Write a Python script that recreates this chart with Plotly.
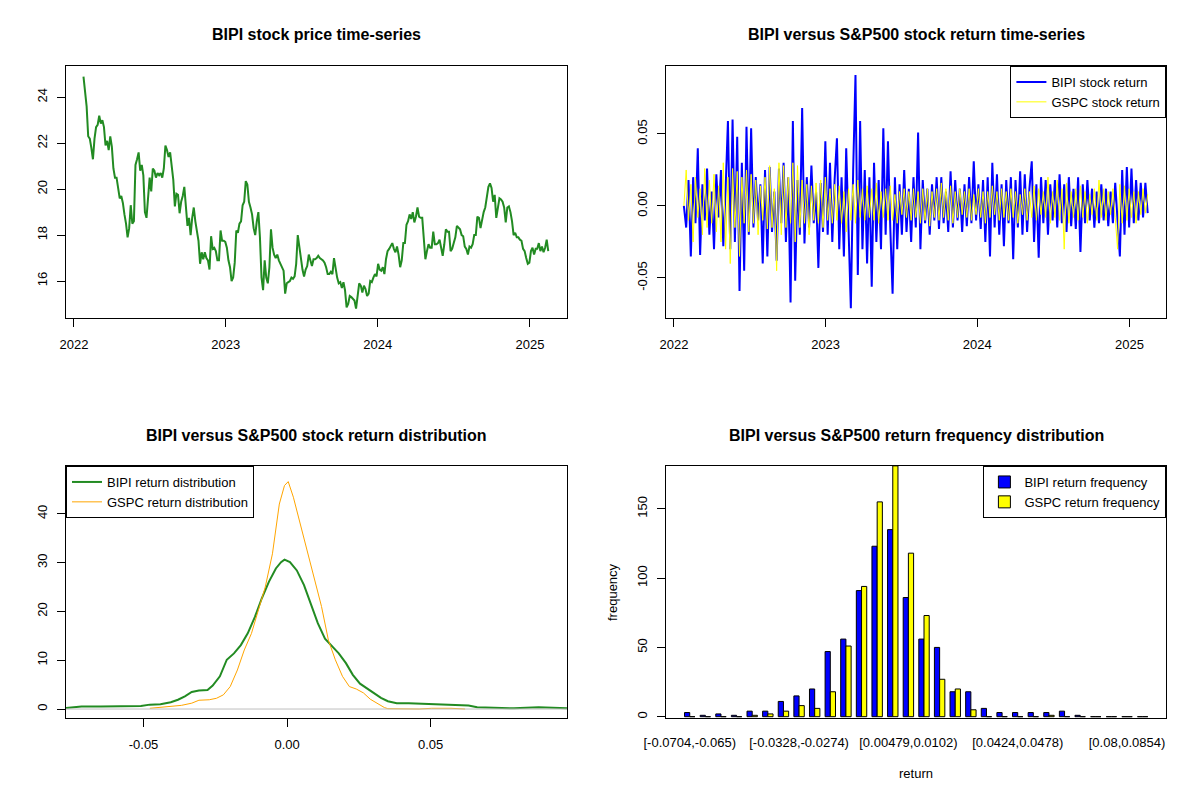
import pandas as pd
import plotly.graph_objects as go

# BIPI close price (roughly every 4 calendar days)
price = [
    24.9, 24.07, 23.6, 22.3, 22.2, 21.8, 21.3, 22.2, 22.7, 22.8, 23.2, 22.85, 23.0, 22.7, 21.9,
    22.1, 21.7, 22.3, 21.85, 20.9, 20.5, 20.5, 20.1, 19.6, 19.7, 19.4, 18.9, 18.5, 17.9, 18.3,
    19.3, 18.5, 18.6, 21.05, 21.3, 21.6, 20.8, 21.05, 20.6, 19.0, 18.75, 19.6, 20.5, 19.9, 20.9,
    20.8, 20.5, 20.7, 20.6, 20.7, 20.5, 20.9, 21.9, 21.7, 21.4, 21.6, 20.9, 20.4, 19.25, 19.8,
    19.75, 18.95, 19.45, 19.7, 20.1, 19.0, 18.4, 18.75, 18.0, 18.75, 19.2, 18.6, 18.1, 17.75, 16.75,
    17.25, 16.95, 17.25, 17.0, 16.9, 16.5, 17.95, 17.4, 17.45, 17.3, 16.9, 16.9, 18.2, 17.75, 17.75,
    17.7, 17.45, 16.9, 16.6, 16.0, 16.15, 16.8, 18.2, 18.1, 18.5, 18.6, 19.3, 19.45, 20.35, 20.2,
    19.45, 19.2, 18.9, 18.3, 18.0, 18.6, 19.0, 17.9, 16.15, 15.6, 16.9, 16.15, 15.9, 16.6, 18.25,
    17.45, 17.15, 17.0, 17.15, 16.9, 16.75, 16.6, 16.45, 15.45, 15.9, 15.95, 16.0, 16.15, 16.1, 16.2,
    16.75, 18.0, 17.45, 16.9, 16.5, 16.2, 16.5, 16.65, 17.15, 16.9, 16.65, 16.95, 16.95, 17.0, 17.1,
    17.0, 16.95, 16.9, 16.8, 16.6, 16.3, 16.3, 16.4, 16.3, 17.0, 16.45, 16.15, 15.9, 15.95, 15.7,
    15.95, 15.6, 14.85, 15.0, 15.35, 15.3, 15.2, 15.15, 14.8, 15.3, 15.9, 15.8, 15.5, 15.8, 15.65,
    15.35, 15.45, 16.0, 15.95, 16.15, 16.3, 16.2, 16.75, 16.5, 16.45, 16.6, 16.3, 16.95, 17.3, 17.4,
    17.5, 17.65, 17.4, 17.25, 17.5, 17.15, 16.6, 16.9, 17.65, 17.65, 18.45, 18.6, 18.9, 18.7, 19.0,
    18.55, 18.8, 19.2, 18.8, 18.75, 18.75, 17.65, 16.95, 17.3, 17.6, 17.45, 17.45, 18.15, 17.6, 17.6,
    17.65, 17.8, 17.5, 17.1, 17.6, 18.25, 18.15, 18.15, 17.3, 17.4, 17.65, 17.9, 18.4, 18.3, 18.25,
    18.0, 17.95, 17.5, 17.4, 17.15, 17.5, 17.45, 17.6, 18.0, 18.0, 18.8, 18.75, 18.3, 18.7, 19.0,
    19.2, 19.6, 20.1, 20.25, 20.05, 19.45, 19.75, 18.75, 19.3, 19.6, 19.55, 19.45, 19.2, 18.55, 19.2,
    19.25, 19.0, 18.6, 18.0, 18.1, 17.9, 17.9, 17.8, 17.75, 17.4, 17.3, 17.0, 16.75, 16.8, 17.3,
    17.45, 17.15, 17.4, 17.4, 17.65, 17.3, 17.5, 17.25, 17.45, 17.8, 17.3,
]

# daily returns, thinned (about one value every 5-6 days)
bipi_ret = [
    0.000, -0.015, 0.018, -0.035, 0.020, -0.012, 0.040, -0.034, 0.015, -0.010,
    0.026, -0.020, 0.010, -0.030, 0.022, -0.008, 0.025, -0.028, 0.012, 0.059,
    -0.030, 0.060, -0.025, 0.048, -0.059, 0.030, -0.045, 0.055, -0.020, 0.054,
    -0.015, 0.020, -0.010, 0.015, -0.040, 0.025, -0.035, 0.027, -0.018, 0.010,
    -0.038, 0.026, -0.012, 0.030, -0.025, 0.020, -0.067, 0.059, -0.052, 0.018,
    -0.020, 0.068, -0.026, 0.020, -0.015, 0.028, -0.012, 0.010, -0.043, 0.016,
    -0.018, 0.045, -0.020, 0.030, -0.025, 0.018, 0.047, -0.030, 0.020, -0.035,
    0.040, -0.020, -0.071, 0.025, 0.091, -0.048, 0.059, -0.030, 0.025, -0.040,
    0.020, -0.056, 0.030, -0.025, 0.018, -0.030, 0.054, -0.020, 0.045, -0.015,
    -0.061, 0.020, -0.030, 0.015, -0.020, 0.025, -0.018, 0.012, -0.025, 0.020,
    -0.015, 0.051, -0.030, 0.018, -0.012, 0.012, -0.020, 0.015, -0.010, 0.020,
    -0.016, 0.020, -0.012, 0.010, -0.018, 0.024, -0.015, 0.018, -0.010, 0.012,
    -0.018, 0.015, -0.014, 0.020, -0.012, 0.031, -0.010, 0.015, -0.016, 0.018,
    -0.025, 0.020, -0.035, 0.030, -0.015, 0.022, -0.020, 0.015, -0.028, 0.018,
    -0.012, 0.020, -0.037, 0.018, -0.015, 0.024, -0.020, 0.022, -0.018, 0.012,
    0.031, -0.025, 0.015, -0.036, 0.020, -0.012, 0.018, -0.020, 0.015, -0.010,
    0.018, -0.015, 0.022, -0.012, 0.015, -0.018, 0.020, -0.014, 0.012, -0.016,
    0.020, -0.032, 0.015, -0.012, 0.018, -0.010, 0.012, -0.015, 0.010, -0.012,
    0.015, -0.010, 0.012, -0.014, 0.010, -0.012, 0.016, -0.010, -0.035, 0.025,
    -0.020, 0.027, -0.015, 0.026, -0.012, 0.018, -0.010, 0.016, -0.008, 0.016,
    -0.005,
]
gspc_ret = [
    0.000, 0.025, -0.010, 0.015, -0.025, 0.020, -0.008, 0.012, -0.020, 0.026,
    -0.015, 0.018, -0.012, 0.022, -0.018, 0.014, -0.025, 0.030, -0.030, 0.020,
    -0.040, 0.026, -0.015, 0.024, -0.035, 0.020, -0.012, 0.025, -0.018, 0.022,
    -0.012, 0.018, -0.020, 0.014, -0.010, 0.020, -0.016, 0.028, -0.015, 0.012,
    -0.045, 0.030, -0.020, 0.028, -0.015, 0.020, -0.012, 0.030, -0.025, 0.028,
    -0.015, 0.018, -0.012, 0.015, -0.020, 0.014, -0.010, 0.016, -0.012, 0.018,
    -0.015, 0.020, -0.010, 0.012, -0.012, 0.015, -0.010, 0.014, -0.012, 0.010,
    -0.018, 0.012, -0.010, 0.015, -0.012, 0.018, -0.008, 0.012, -0.010, 0.014,
    -0.008, 0.012, -0.010, 0.016, -0.012, 0.010, -0.008, 0.012, -0.010, 0.014,
    -0.010, 0.008, -0.012, 0.010, -0.006, 0.012, -0.008, 0.010, -0.010, 0.012,
    -0.008, 0.010, -0.012, 0.012, -0.010, 0.012, -0.014, 0.010, -0.008, 0.012,
    -0.010, 0.016, -0.008, 0.012, -0.010, 0.014, -0.012, 0.010, -0.008, 0.012,
    -0.006, 0.010, -0.008, 0.012, -0.010, 0.008, -0.006, 0.012, -0.008, 0.010,
    -0.012, 0.010, -0.008, 0.014, -0.006, 0.010, -0.010, 0.012, -0.008, 0.010,
    -0.010, 0.012, -0.008, 0.010, -0.012, 0.008, -0.006, 0.012, -0.010, 0.010,
    -0.008, 0.014, -0.010, 0.012, -0.006, 0.010, -0.008, 0.020, -0.012, 0.010,
    -0.008, 0.018, -0.010, 0.012, -0.030, 0.016, -0.012, 0.010, -0.008, 0.012,
    -0.010, 0.014, -0.008, 0.010, -0.012, 0.008, -0.006, 0.012, -0.010, 0.018,
    -0.008, 0.012, -0.010, 0.010, -0.006, 0.012, -0.008, -0.030, 0.015, -0.012,
    0.014, -0.010, 0.012, -0.008, 0.010, -0.012, 0.010, -0.006, 0.012, -0.005,
    0.008,
]

# kernel density curves
bipi_dens_x = [-0.0770, -0.0716, -0.0649, -0.0588, -0.0509, -0.0478, -0.0441, -0.0405, -0.0380, -0.0356,
               -0.0332, -0.0307, -0.0277, -0.0259, -0.0234, -0.0210, -0.0185, -0.0161, -0.0137, -0.0112,
               -0.0088, -0.0063, -0.0039, -0.0021, -0.0009, 0.0010, 0.0034, 0.0059, 0.0083, 0.0107,
               0.0132, 0.0156, 0.0180, 0.0205, 0.0229, 0.0254, 0.0278, 0.0302, 0.0327, 0.0351,
               0.0382, 0.0424, 0.0473, 0.0522, 0.0595, 0.0632, 0.0662, 0.0717, 0.0790, 0.0876,
               0.0950, 0.0975]
bipi_dens_y = [0.2, 0.5, 0.5, 0.5, 0.6, 0.9, 1.0, 1.4, 1.9, 2.6,
               3.5, 3.8, 3.9, 4.8, 6.7, 10.1, 11.4, 13.1, 15.5, 18.9,
               22.7, 26.1, 28.8, 30.1, 30.6, 30.1, 28.4, 25.4, 21.6, 17.6,
               14.4, 12.8, 11.4, 9.4, 7.0, 5.2, 4.2, 3.3, 2.3, 1.6,
               1.2, 1.2, 1.1, 0.95, 0.9, 0.7, 0.35, 0.2, 0.14, 0.35,
               0.3, 0.15]
gspc_dens_x = [-0.0478, -0.0441, -0.0405, -0.0368, -0.0332, -0.0307, -0.0271, -0.0246, -0.0222, -0.0198,
               -0.0173, -0.0149, -0.0124, -0.0100, -0.0076, -0.0051, -0.0027, -0.0009, 0.0004, 0.0022,
               0.0046, 0.0071, 0.0095, 0.0120, 0.0144, 0.0168, 0.0193, 0.0217, 0.0241, 0.0266,
               0.0290, 0.0315, 0.0339, 0.0351, 0.0400, 0.0460, 0.0504, 0.0540, 0.0571, 0.0620]
gspc_dens_y = [0.15, 0.35, 0.55, 0.75, 1.2, 1.8, 1.9, 2.2, 2.9, 4.6,
               8.0, 12.1, 15.5, 20.3, 25.0, 31.8, 42.0, 45.8, 46.6, 43.4,
               38.0, 31.8, 26.4, 21.0, 14.1, 10.1, 6.7, 4.6, 4.1, 3.3,
               2.0, 1.1, 0.3, 0.07, 0.0, 0.0, 0.15, 0.2, 0.15, 0.0]

# frequency table (30 bins)
bin_labels = ["[-0.0704,-0.065)", "[-0.065,-0.0597)", "[-0.0597,-0.0543)", "[-0.0543,-0.0489)",
              "[-0.0489,-0.0435)", "[-0.0435,-0.0382)", "[-0.0382,-0.0328)", "[-0.0328,-0.0274)",
              "[-0.0274,-0.0221)", "[-0.0221,-0.0167)", "[-0.0167,-0.0113)", "[-0.0113,-0.00595)",
              "[-0.00595,-0.000577)", "[-0.000577,0.00479)", "[0.00479,0.0102)", "[0.0102,0.0155)",
              "[0.0155,0.0209)", "[0.0209,0.0263)", "[0.0263,0.0316)", "[0.0316,0.037)",
              "[0.037,0.0424)", "[0.0424,0.0478)", "[0.0478,0.0531)", "[0.0531,0.0585)",
              "[0.0585,0.0639)", "[0.0639,0.0692)", "[0.0692,0.0746)", "[0.0746,0.08)",
              "[0.08,0.0854)", "[0.0854,0.0907)"]
bipi_freq = [3, 1, 2, 1, 4, 4, 11, 15, 20, 47, 56, 91, 123, 135, 86,
             56, 50, 18, 18, 6, 3, 3, 3, 3, 4, 1, 0, 0, 0, 0]
gspc_freq = [0, 0, 0, 0, 1, 2, 4, 8, 6, 18, 51, 94, 155, 181, 118,
             73, 27, 20, 5, 0, 0, 0, 0, 1, 0, 0, 0, 0, 0, 0]

price_dates = pd.date_range("2022-01-24", "2025-02-14", periods=len(price))
ret_dates = pd.date_range("2022-01-25", "2025-02-14", periods=len(bipi_ret))

FONT = "Liberation Sans, Arial, sans-serif"

# the page body has an 8px margin, so the figure is 8px smaller and shifted
W, H, OFF = 1192, 792, 8


def px_x(x):
    return (x - OFF) / W


def px_y(y):
    return 1 - (y - OFF) / H


fig = go.Figure()

fig.add_trace(go.Scatter(x=price_dates, y=price, mode="lines", line=dict(color="#228B22", width=2),
                         showlegend=False, xaxis="x", yaxis="y"))

fig.add_trace(go.Scatter(x=ret_dates, y=bipi_ret, mode="lines", name="BIPI stock return",
                         line=dict(color="blue", width=2), xaxis="x2", yaxis="y2", legend="legend"))
fig.add_trace(go.Scatter(x=ret_dates, y=gspc_ret, mode="lines", name="GSPC stock return",
                         line=dict(color="yellow", width=1), xaxis="x2", yaxis="y2", legend="legend"))

fig.add_trace(go.Scatter(x=bipi_dens_x, y=bipi_dens_y, mode="lines", name="BIPI return distribution",
                         line=dict(color="#228B22", width=2), xaxis="x3", yaxis="y3", legend="legend2"))
fig.add_trace(go.Scatter(x=gspc_dens_x, y=gspc_dens_y, mode="lines", name="GSPC return distribution",
                         line=dict(color="orange", width=1), xaxis="x3", yaxis="y3", legend="legend2"))

fig.add_trace(go.Bar(x=bin_labels, y=bipi_freq, name="BIPI return frequency",
                     marker=dict(color="blue", line=dict(color="black", width=1)),
                     xaxis="x4", yaxis="y4", legend="legend3"))
fig.add_trace(go.Bar(x=bin_labels, y=gspc_freq, name="GSPC return frequency",
                     marker=dict(color="yellow", line=dict(color="black", width=1)),
                     xaxis="x4", yaxis="y4", legend="legend3"))

ax = dict(showline=True, linecolor="black", linewidth=1, mirror=True, ticks="outside", ticklen=8,
          tickcolor="black", showgrid=False, zeroline=False, automargin=False,
          tickfont=dict(size=13, color="black"))
xax = dict(ax, ticklabelstandoff=6)
yax = dict(ax, tickangle=-90, ticklabelstandoff=5)

xl = [px_x(66), px_x(567)]
xr = [px_x(666), px_x(1166.4)]
yt = [px_y(318), px_y(66)]
yb = [px_y(718), px_y(466)]

years = ["2022-01-01", "2023-01-01", "2024-01-01", "2025-01-01"]
year_txt = ["2022", "2023", "2024", "2025"]
date_range = ["2021-12-13", "2025-03-31"]

fig.update_layout(
    width=W, height=H, margin=dict(l=0, r=0, t=0, b=0, autoexpand=False),
    plot_bgcolor="white", paper_bgcolor="white",
    font=dict(family=FONT, size=13, color="black"),
    barmode="group", bargap=1 / 3, bargroupgap=0,
    xaxis=dict(xax, domain=xl, anchor="y", type="date", range=date_range,
               tickvals=years, ticktext=year_txt),
    yaxis=dict(yax, domain=yt, anchor="x", range=[14.39, 25.36], tickvals=[16, 18, 20, 22, 24]),
    xaxis2=dict(xax, domain=xr, anchor="y2", type="date", range=date_range,
                tickvals=years, ticktext=year_txt),
    yaxis2=dict(yax, domain=yt, anchor="x2", range=[-0.0778, 0.0972],
                tickvals=[-0.05, 0, 0.05], ticktext=["-0.05", "0.00", "0.05"]),
    xaxis3=dict(xax, domain=xl, anchor="y3", range=[-0.077, 0.0975],
                tickvals=[-0.05, 0, 0.05], ticktext=["-0.05", "0.00", "0.05"]),
    yaxis3=dict(yax, domain=yb, anchor="x3", range=[-1.84, 49.8], tickvals=[0, 10, 20, 30, 40]),
    xaxis4=dict(ax, domain=xr, anchor="y4", type="category", categoryorder="array",
                categoryarray=bin_labels, range=[-1.52, 30.52], tickcolor="rgba(0,0,0,0)", ticklen=12,
                tickvals=[bin_labels[i] for i in (0, 7, 14, 21, 28)],
                ticktext=[bin_labels[i] for i in (0, 7, 14, 21, 28)], tickangle=0),
    yaxis4=dict(yax, domain=yb, anchor="x4", range=[-0.94, 180.9], tickvals=[0, 50, 100, 150]),
    legend=dict(x=xr[1], y=yt[1], xanchor="right", yanchor="top", bgcolor="white",
                bordercolor="black", borderwidth=1, font=dict(size=13), tracegroupgap=0),
    legend2=dict(x=xl[0], y=yb[1], xanchor="left", yanchor="top", bgcolor="white",
                 bordercolor="black", borderwidth=1, font=dict(size=13), tracegroupgap=0),
    legend3=dict(x=xr[1], y=yb[1], xanchor="right", yanchor="top", bgcolor="white",
                 bordercolor="black", borderwidth=1, font=dict(size=13), tracegroupgap=0),
)

# zero line drawn by the density plot
fig.add_shape(type="line", xref="x3 domain", yref="y3", x0=0, x1=1, y0=0, y1=0,
              line=dict(color="#BEBEBE", width=1), layer="above")

titles = [
    ("BIPI stock price time-series", sum(xl) / 2, px_y(35)),
    ("BIPI versus S&P500 stock return time-series", sum(xr) / 2, px_y(35)),
    ("BIPI versus S&P500 stock return distribution", sum(xl) / 2, px_y(435)),
    ("BIPI versus S&P500 return frequency distribution", sum(xr) / 2, px_y(435)),
]
for text, x, y in titles:
    fig.add_annotation(text="<b>" + text + "</b>", x=x, y=y, xref="paper", yref="paper",
                       xanchor="center", yanchor="middle", showarrow=False,
                       font=dict(size=16, family=FONT, color="black"))

fig.add_annotation(text="frequency", x=px_x(612), y=sum(yb) / 2, xref="paper", yref="paper",
                   xanchor="center", yanchor="middle", textangle=-90, showarrow=False,
                   font=dict(size=13, family=FONT))
fig.add_annotation(text="return", x=sum(xr) / 2, y=px_y(773), xref="paper", yref="paper",
                   xanchor="center", yanchor="middle", showarrow=False,
                   font=dict(size=13, family=FONT))

fig.write_html("out.html")
